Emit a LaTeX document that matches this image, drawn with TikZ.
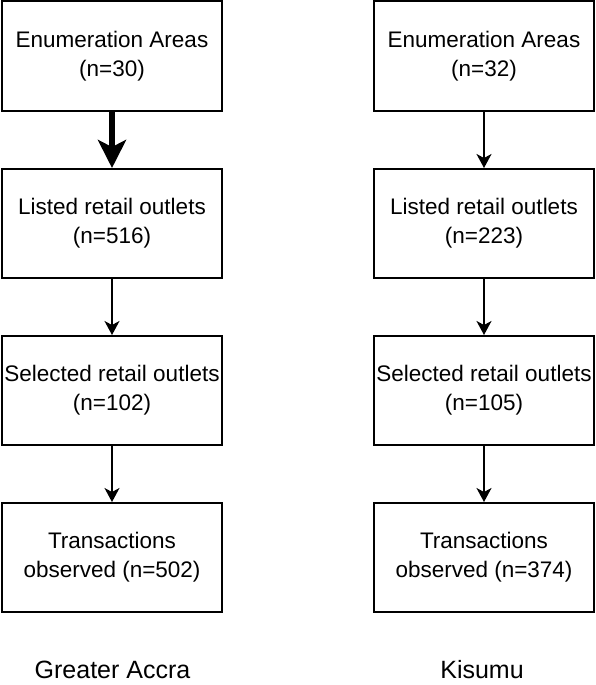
\documentclass[tikz,border=0pt]{standalone}
\usepackage{fontspec}
\setmainfont{Liberation Sans}
\usetikzlibrary{arrows.meta}
\begin{document}
\begin{tikzpicture}[x=1pt,y=1pt,
 box/.style={draw=black, line width=2pt, minimum width=220pt, minimum height=109pt, inner sep=0pt, align=center, font=\fontsize{22.5}{29}\selectfont},
 arr/.style={line width=1.8pt, -{Stealth[length=14pt,width=15pt,inset=4pt]}},
 thickarr/.style={line width=6.5pt, -{Stealth[length=28pt,width=28pt,inset=7pt]}},
 lab/.style={font=\fontsize{25}{30}\selectfont, anchor=base, inner sep=0pt}]
\useasboundingbox (0,0) rectangle (596,-685);
% left column
\node[box] (l1) at (112,-56) {Enumeration Areas\\(n=30)};
\node[box] (l2) at (112,-223.5) {Listed retail outlets\\(n=516)};
\node[box] (l3) at (112,-390.5) {Selected retail outlets\\(n=102)};
\node[box] (l4) at (112,-557.5) {Transactions\\observed (n=502)};
% right column
\node[box] (r1) at (484,-56) {Enumeration Areas\\(n=32)};
\node[box] (r2) at (484,-223.5) {Listed retail outlets\\(n=223)};
\node[box] (r3) at (484,-390.5) {Selected retail outlets\\(n=105)};
\node[box] (r4) at (484,-557.5) {Transactions\\observed (n=374)};
% arrows
\draw[thickarr] (l1) -- (l2);
\draw[arr] (l2) -- (l3);
\draw[arr] (l3) -- (l4);
\draw[arr] (r1) -- (r2);
\draw[arr] (r2) -- (r3);
\draw[arr] (r3) -- (r4);
% labels
\node[lab] (ga) at (112.5,-678) {Greater Accra};
\node[lab] (ki) at (482,-678) {Kisumu};
\end{tikzpicture}
\end{document}
